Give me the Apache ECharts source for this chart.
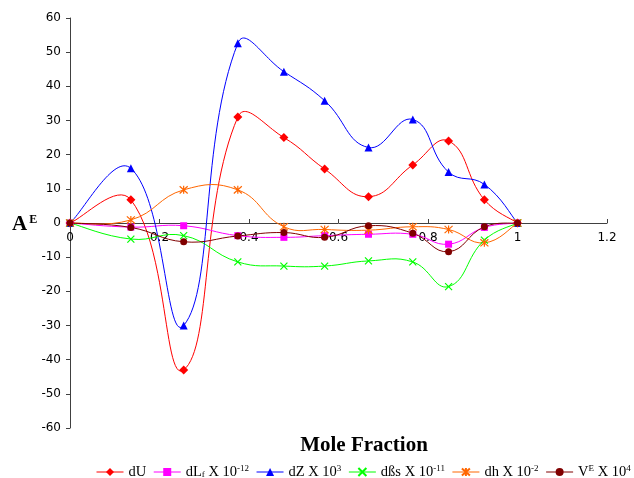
<!DOCTYPE html>
<html>
<head>
<meta charset="utf-8">
<script src="https://cdn.jsdelivr.net/npm/echarts@6/dist/echarts.min.js"></script>
<style>html,body{margin:0;padding:0;background:#fff;}#c{width:634px;height:478px;}</style>
</head>
<body>
<div id="c"></div>
<script>
var xs = [0, 0.136, 0.254, 0.375, 0.478, 0.569, 0.667, 0.766, 0.846, 0.926, 1];
var dU = [0, 6.8, -43, 31, 25, 15.8, 7.7, 17, 24, 6.8, 0];
var dLf = [0, -1.2, -0.8, -3.7, -4.2, -3.7, -3.3, -3.3, -6.2, -1.3, 0];
var dZ = [0, 16, -30, 52.6, 44.3, 35.8, 22.1, 30.3, 14.9, 11.3, 0];
var dBs = [0, -4.7, -3.7, -11.4, -12.6, -12.6, -11.1, -11.4, -18.6, -5.0, 0];
var dh = [0, 0.9, 9.7, 9.7, -1.1, -1.9, -2.1, -1.1, -1.9, -5.8, 0];
var VE = [0, -1.3, -5.5, -3.8, -2.8, -4.2, -0.8, -3.0, -8.4, -1.1, 0];
var seriesNames = ['dU', 'dLf', 'dZ', 'dBs', 'dh', 'VE'];
var legendLabels = {
  dU: 'dU',
  dLf: 'dL{sub|f} X 10{sup|-12}',
  dZ: 'dZ X 10{sup|3}',
  dBs: 'dßs X 10{sup|-11}',
  dh: 'dh X 10{sup|-2}',
  VE: 'V{sup|E} X 10{sup|4}'
};
var colors = { dU: '#FF0000', dLf: '#FF00FF', dZ: '#0000FF', dBs: '#00FF00', dh: '#FF6600', VE: '#800000' };

function pairs(ys) { return xs.map(function (x, i) { return [x, ys[i]]; }); }

var crossPath = 'path://M0,0L10,10M10,0L0,10';
var starPath = 'path://M5,0L5,10M0.5,0.5L9.5,9.5M9.5,0.5L0.5,9.5';

// Excel-style smoothed line (segment-length weighted Bezier, no clamping) drawn via the axis scales
function curveSeries(name, ys) {
  var color = colors[name];
  var S = 0.45;
  return {
    type: 'custom', name: name + '_curve', silent: true, z: 1,
    data: pairs(ys),
    encode: { x: 0, y: 1 },
    renderItem: function (params, api) {
      var i = params.dataIndex;
      var n = ys.length;
      if (i >= n - 1) return null;
      var p = function (k) {
        k = Math.max(0, Math.min(n - 1, k));
        return api.coord([xs[k], ys[k]]);
      };
      var len = function (a, b) { return Math.sqrt((a[0] - b[0]) * (a[0] - b[0]) + (a[1] - b[1]) * (a[1] - b[1])); };
      var p0 = p(i - 1), p1 = p(i), p2 = p(i + 1), p3 = p(i + 2);
      var l01 = len(p0, p1), l12 = len(p1, p2), l23 = len(p2, p3);
      var r1 = (l01 + l12) > 0 ? l12 / (l01 + l12) : 0;
      var r2 = (l12 + l23) > 0 ? l12 / (l12 + l23) : 0;
      if (i === 0) r1 = 0.5;
      if (i + 1 === n - 1) r2 = 0.5;
      return {
        type: 'bezierCurve',
        shape: {
          x1: p1[0], y1: p1[1], x2: p2[0], y2: p2[1],
          cpx1: p1[0] + (p2[0] - p0[0]) * S * r1, cpy1: p1[1] + (p2[1] - p0[1]) * S * r1,
          cpx2: p2[0] - (p3[0] - p1[0]) * S * r2, cpy2: p2[1] - (p3[1] - p1[1]) * S * r2
        },
        style: { stroke: color, lineWidth: 1, fill: null }
      };
    },
    animation: false
  };
}

function mk(name, data, symbol, size, stroke) {
  var color = colors[name];
  return {
    name: name, type: 'line', data: pairs(data),
    symbol: symbol, symbolSize: size, z: 3,
    lineStyle: { color: color, width: 0, opacity: 0 },
    itemStyle: stroke ? { color: 'rgba(0,0,0,0)', borderColor: color, borderWidth: 1.2 } : { color: color, borderWidth: 0 },
    emphasis: { disabled: true },
    animation: false
  };
}

var chart = echarts.init(document.getElementById('c'));
chart.setOption({
  backgroundColor: '#fff',
  animation: false,
  grid: { left: 70, right: 27, top: 18, bottom: 50, containLabel: false },
  xAxis: {
    type: 'value', min: 0, max: 1.2, interval: 0.2,
    offset: -205,
    axisLine: { onZero: false, lineStyle: { color: '#404040', width: 1 } },
    axisTick: { show: true, inside: true, length: 4, lineStyle: { color: '#404040' } },
    axisLabel: { color: '#000', fontFamily: 'DejaVu Sans', fontSize: 12, margin: 9 },
    splitLine: { show: false }
  },
  yAxis: {
    type: 'value', min: -60, max: 60, interval: 10,
    axisLine: { show: true, onZero: false, lineStyle: { color: '#404040', width: 1 } },
    axisTick: { show: true, inside: false, length: 4, lineStyle: { color: '#404040' } },
    axisLabel: { color: '#000', fontFamily: 'DejaVu Sans', fontSize: 12, margin: 9 },
    splitLine: { show: false }
  },
  legend: {
    left: 91, top: 459, width: 900, itemWidth: 27, itemHeight: 10, itemGap: 7,
    data: seriesNames.map(function (n) {
      return { name: n, lineStyle: { color: colors[n], width: 1, opacity: 1 } };
    }),
    formatter: function (n) { return legendLabels[n]; },
    textStyle: {
      color: '#000', fontFamily: 'Liberation Serif', fontSize: 14.5,
      rich: {
        sup: { fontSize: 9, fontFamily: 'Liberation Serif', color: '#000', padding: [0, 0, 7, 0] },
        sub: { fontSize: 9, fontFamily: 'Liberation Serif', color: '#000', padding: [5, 0, 0, 0] }
      }
    }
  },
  graphic: [
    {
      type: 'text', left: 12, top: 214,
      style: {
        text: '{a|A}{e|E}',
        rich: {
          a: { fontFamily: 'Liberation Serif', fontWeight: 'bold', fontSize: 21, fill: '#000' },
          e: { fontFamily: 'Liberation Serif', fontWeight: 'bold', fontSize: 12, fill: '#000', padding: [0, 0, 10, 2] }
        }
      }
    },
    {
      type: 'text', x: 364, y: 446,
      style: {
        text: 'Mole Fraction', fontFamily: 'Liberation Serif', fontWeight: 'bold', fontSize: 21,
        fill: '#000', align: 'center', verticalAlign: 'middle'
      }
    }
  ],
  series: [
    curveSeries('dU', dU),
    curveSeries('dLf', dLf),
    curveSeries('dZ', dZ),
    curveSeries('dBs', dBs),
    curveSeries('dh', dh),
    curveSeries('VE', VE),
    mk('dU', dU, 'diamond', 9, false),
    mk('dLf', dLf, 'rect', 7, false),
    mk('dZ', dZ, 'triangle', 8, false),
    mk('dBs', dBs, crossPath, 7, true),
    mk('dh', dh, starPath, 8, true),
    mk('VE', VE, 'circle', 7, false)
  ]
});
</script>
</body>
</html>
